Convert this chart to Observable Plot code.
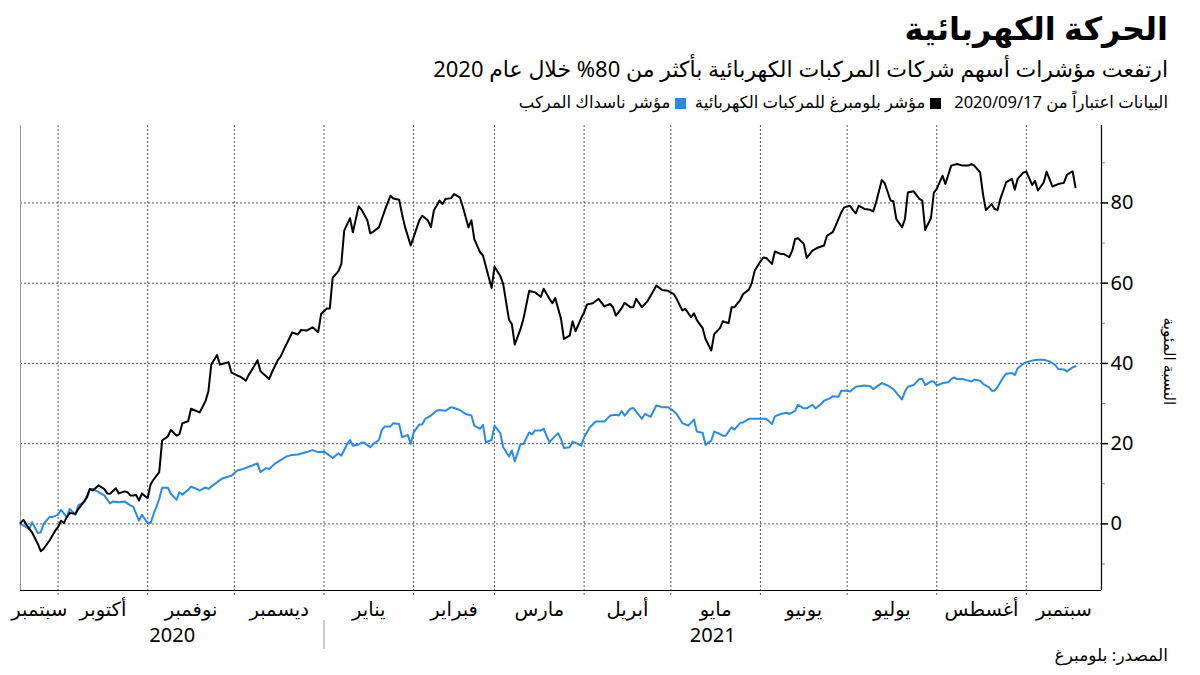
<!DOCTYPE html>
<html lang="ar">
<head>
<meta charset="utf-8">
<script src="https://cdn.jsdelivr.net/npm/d3@7"></script>
<script src="https://cdn.jsdelivr.net/npm/@observablehq/plot@0.6"></script>
<style>
body{margin:0;background:#fff;}
#wrap{position:relative;width:1200px;height:675px;overflow:hidden;font-family:"Noto Sans","DejaVu Sans",sans-serif;color:#000;}
.rt{position:absolute;right:32px;direction:rtl;white-space:nowrap;line-height:1.2;}
#title{top:9px;font-size:32px;font-weight:bold;}
#subtitle{top:55px;font-size:22px;}
#legend{top:92px;font-size:16.5px;}
#legend .sw{display:inline-block;width:11px;height:11px;margin:0 0 0 5px;vertical-align:-1px;}
#source{top:645px;font-size:17px;}
#chart{position:absolute;left:0;top:118px;}
</style>
</head>
<body>
<div id="wrap">
  <div id="title" class="rt">الحركة الكهربائية</div>
  <div id="subtitle" class="rt">ارتفعت مؤشرات أسهم شركات المركبات الكهربائية بأكثر من 80% خلال عام 2020</div>
  <div id="legend" class="rt">البيانات اعتباراً من 2020/09/17&nbsp;&nbsp; <span class="sw" style="background:#000"></span>مؤشر بلومبرغ للمركبات الكهربائية&nbsp; <span class="sw" style="background:#2a8ae6"></span>مؤشر ناسداك المركب</div>
  <div id="chart"></div>
  <div id="source" class="rt">المصدر: بلومبرغ</div>
</div>
<script>
// Bloomberg EV index, % change since start
const evIndex = [
["2020-09-18",0.2],["2020-09-19",1.0],["2020-09-21",-1.2],["2020-09-22",-2.1],["2020-09-24",-5.0],["2020-09-25",-6.8],["2020-09-26",-6.2],["2020-09-28",-4.2],["2020-09-30",-1.7],
["2020-10-01",-0.8],["2020-10-02",0.8],["2020-10-03",0.2],["2020-10-04",1.7],["2020-10-05",2.7],["2020-10-07",2.5],["2020-10-08",3.7],["2020-10-09",4.6],["2020-10-11",6.6],["2020-10-12",8.7],["2020-10-13",8.3],["2020-10-15",9.6],["2020-10-17",8.7],["2020-10-18",7.6],["2020-10-19",7.5],["2020-10-21",8.9],["2020-10-22",7.6],["2020-10-24",8.1],["2020-10-25",7.9],["2020-10-26",7.1],["2020-10-27",7.1],["2020-10-28",7.2],["2020-10-29",5.8],["2020-10-30",7.6],
["2020-11-01",6.4],["2020-11-02",9.8],["2020-11-03",11.0],["2020-11-05",12.9],["2020-11-06",20.8],["2020-11-08",21.8],["2020-11-09",23.4],["2020-11-11",22.0],["2020-11-12",22.4],["2020-11-13",25.1],["2020-11-15",25.6],["2020-11-16",28.7],["2020-11-19",27.8],["2020-11-21",30.6],["2020-11-22",33.0],["2020-11-23",39.7],["2020-11-25",42.1],["2020-11-26",39.7],["2020-11-27",39.9],["2020-11-29",40.3],["2020-11-30",37.7],
["2020-12-02",37.0],["2020-12-03",36.7],["2020-12-05",35.7],["2020-12-06",37.2],["2020-12-07",38.3],["2020-12-09",40.8],["2020-12-10",38.1],["2020-12-11",37.4],["2020-12-13",36.1],["2020-12-14",37.8],["2020-12-16",40.8],["2020-12-17",41.7],["2020-12-18",43.3],["2020-12-21",47.7],["2020-12-23",47.2],["2020-12-24",48.3],["2020-12-26",48.2],["2020-12-28",49.0],["2020-12-30",47.8],["2020-12-31",52.3],
["2021-01-02",53.7],["2021-01-03",53.7],["2021-01-04",61.3],["2021-01-06",63.0],["2021-01-07",64.8],["2021-01-08",73.1],["2021-01-10",76.2],["2021-01-11",72.7],["2021-01-13",79.2],["2021-01-14",78.3],["2021-01-16",75.7],["2021-01-17",72.4],["2021-01-18",72.8],["2021-01-20",73.9],["2021-01-21",76.0],["2021-01-22",78.1],["2021-01-24",81.8],["2021-01-25",81.1],["2021-01-27",80.8],["2021-01-28",77.2],["2021-01-29",74.1],["2021-01-31",69.4],
["2021-02-01",71.4],["2021-02-03",75.7],["2021-02-04",76.8],["2021-02-06",75.6],["2021-02-07",73.9],["2021-02-08",78.1],["2021-02-10",80.6],["2021-02-11",79.7],["2021-02-12",81.0],["2021-02-14",81.2],["2021-02-15",82.2],["2021-02-17",81.4],["2021-02-18",79.1],["2021-02-20",73.9],["2021-02-21",75.7],["2021-02-22",71.0],["2021-02-24",67.7],["2021-02-25",66.9],["2021-02-27",61.5],["2021-02-28",58.8],
["2021-03-01",64.1],["2021-03-03",61.8],["2021-03-04",59.8],["2021-03-06",50.9],["2021-03-07",49.8],["2021-03-08",44.7],["2021-03-10",48.6],["2021-03-11",51.1],["2021-03-13",58.1],["2021-03-15",57.7],["2021-03-17",56.6],["2021-03-18",58.6],["2021-03-20",56.1],["2021-03-21",55.0],["2021-03-22",56.3],["2021-03-24",51.1],["2021-03-25",46.1],["2021-03-27",46.9],["2021-03-28",50.5],["2021-03-29",48.0],["2021-03-31",51.3],
["2021-04-01",52.7],["2021-04-02",54.7],["2021-04-04",55.0],["2021-04-06",56.1],["2021-04-08",54.2],["2021-04-10",54.8],["2021-04-11",54.0],["2021-04-12",51.9],["2021-04-14",53.8],["2021-04-15",55.1],["2021-04-17",54.0],["2021-04-18",54.0],["2021-04-19",56.1],["2021-04-21",54.0],["2021-04-23",55.6],["2021-04-25",58.1],["2021-04-26",59.4],["2021-04-28",58.3],["2021-04-30",58.1],
["2021-05-02",57.3],["2021-05-03",56.1],["2021-05-05",53.2],["2021-05-06",53.6],["2021-05-08",51.5],["2021-05-09",52.5],["2021-05-10",50.8],["2021-05-12",48.8],["2021-05-13",46.1],["2021-05-15",43.2],["2021-05-16",47.3],["2021-05-18",48.8],["2021-05-19",50.5],["2021-05-21",50.0],["2021-05-22",54.0],["2021-05-23",54.0],["2021-05-25",55.8],["2021-05-26",57.3],["2021-05-28",58.4],["2021-05-29",60.0],["2021-05-30",63.1],
["2021-06-01",65.4],["2021-06-02",66.4],["2021-06-03",66.3],["2021-06-05",64.8],["2021-06-06",67.9],["2021-06-08",67.3],["2021-06-09",67.3],["2021-06-11",66.5],["2021-06-12",68.1],["2021-06-13",71.0],["2021-06-14",71.2],["2021-06-16",69.8],["2021-06-17",66.3],["2021-06-19",68.1],["2021-06-21",68.9],["2021-06-23",69.4],["2021-06-24",71.8],["2021-06-26",72.7],["2021-06-27",74.3],["2021-06-29",77.7],["2021-06-30",78.9],
["2021-07-02",79.3],["2021-07-03",78.2],["2021-07-04",77.4],["2021-07-05",79.3],["2021-07-07",78.5],["2021-07-09",78.3],["2021-07-10",77.9],["2021-07-11",80.1],["2021-07-13",85.7],["2021-07-14",84.9],["2021-07-16",80.6],["2021-07-17",80.4],["2021-07-18",76.0],["2021-07-20",73.9],["2021-07-21",76.0],["2021-07-22",82.6],["2021-07-24",82.9],["2021-07-26",81.0],["2021-07-27",80.6],["2021-07-28",73.3],["2021-07-30",76.2],["2021-07-31",82.6],
["2021-08-01",83.5],["2021-08-03",86.8],["2021-08-04",84.7],["2021-08-06",89.3],["2021-08-08",89.7],["2021-08-10",89.3],["2021-08-12",89.3],["2021-08-13",89.7],["2021-08-14",89.3],["2021-08-16",87.6],["2021-08-17",82.2],["2021-08-18",78.2],["2021-08-20",79.7],["2021-08-21",78.5],["2021-08-22",78.2],["2021-08-23",81.0],["2021-08-25",85.1],["2021-08-27",86.0],["2021-08-28",83.3],["2021-08-29",86.0],["2021-08-31",87.6],
["2021-09-01",87.8],["2021-09-03",84.5],["2021-09-04",85.5],["2021-09-05",83.1],["2021-09-07",85.1],["2021-09-08",87.8],["2021-09-10",84.1],["2021-09-12",84.7],["2021-09-14",85.0],["2021-09-15",87.0],["2021-09-17",87.9],["2021-09-18",83.9]
];

// Nasdaq Composite, % change since start
const nasdaqIndex = [
["2020-09-18",0.0],["2020-09-20",-0.8],["2020-09-21",-1.3],["2020-09-22",0.4],["2020-09-24",-2.3],["2020-09-25",-2.1],["2020-09-26",0.0],["2020-09-28",1.7],["2020-09-29",1.7],
["2020-10-01",2.3],["2020-10-02",3.5],["2020-10-04",1.7],["2020-10-05",3.7],["2020-10-07",2.3],["2020-10-08",4.6],["2020-10-10",5.4],["2020-10-12",8.7],["2020-10-13",8.7],["2020-10-15",7.9],["2020-10-17",7.1],["2020-10-19",5.1],["2020-10-20",5.6],["2020-10-22",5.4],["2020-10-24",5.6],["2020-10-26",4.6],["2020-10-27",4.3],["2020-10-29",0.8],["2020-10-30",2.3],
["2020-11-01",0.2],["2020-11-02",0.2],["2020-11-03",2.3],["2020-11-05",6.2],["2020-11-06",9.0],["2020-11-08",9.0],["2020-11-09",7.5],["2020-11-11",6.0],["2020-11-12",7.9],["2020-11-13",7.3],["2020-11-15",8.5],["2020-11-16",9.3],["2020-11-18",8.7],["2020-11-19",8.3],["2020-11-21",9.1],["2020-11-22",8.7],["2020-11-23",9.3],["2020-11-25",10.4],["2020-11-27",11.4],["2020-11-30",12.0],
["2020-12-02",13.3],["2020-12-04",13.7],["2020-12-07",14.5],["2020-12-09",15.1],["2020-12-10",12.9],["2020-12-12",13.9],["2020-12-13",13.7],["2020-12-15",15.0],["2020-12-17",15.9],["2020-12-19",16.8],["2020-12-21",17.2],["2020-12-23",17.3],["2020-12-26",17.9],["2020-12-28",18.4],["2020-12-30",17.9],
["2021-01-01",18.0],["2021-01-03",17.0],["2021-01-04",16.4],["2021-01-06",17.6],["2021-01-07",17.0],["2021-01-09",19.9],["2021-01-10",20.9],["2021-01-11",19.5],["2021-01-13",19.8],["2021-01-14",20.3],["2021-01-15",20.2],["2021-01-17",19.1],["2021-01-18",19.9],["2021-01-20",20.9],["2021-01-21",23.4],["2021-01-22",24.3],["2021-01-24",24.3],["2021-01-25",25.1],["2021-01-27",24.9],["2021-01-28",21.6],["2021-01-30",22.2],["2021-01-31",19.9],
["2021-02-01",22.8],["2021-02-03",24.8],["2021-02-04",24.8],["2021-02-05",26.2],["2021-02-07",27.0],["2021-02-09",28.2],["2021-02-10",28.4],["2021-02-12",28.2],["2021-02-14",29.1],["2021-02-15",28.9],["2021-02-17",28.4],["2021-02-19",27.4],["2021-02-21",27.0],["2021-02-22",24.5],["2021-02-24",23.7],["2021-02-25",24.7],["2021-02-26",20.3],["2021-02-28",20.9],
["2021-03-01",24.5],["2021-03-03",22.6],["2021-03-04",19.1],["2021-03-06",16.8],["2021-03-07",18.3],["2021-03-08",15.6],["2021-03-10",19.9],["2021-03-11",19.9],["2021-03-13",22.8],["2021-03-14",22.3],["2021-03-15",23.3],["2021-03-17",23.3],["2021-03-18",23.7],["2021-03-20",20.3],["2021-03-21",21.2],["2021-03-23",22.6],["2021-03-24",21.2],["2021-03-25",18.9],["2021-03-27",19.1],["2021-03-28",20.5],["2021-03-30",19.9],["2021-03-31",19.5],
["2021-04-01",21.6],["2021-04-03",24.1],["2021-04-05",25.5],["2021-04-08",25.5],["2021-04-10",27.0],["2021-04-12",27.2],["2021-04-13",27.0],["2021-04-14",28.1],["2021-04-15",27.0],["2021-04-17",28.7],["2021-04-18",28.9],["2021-04-21",26.2],["2021-04-22",27.4],["2021-04-24",26.7],["2021-04-26",29.5],["2021-04-28",29.1],["2021-04-30",29.1],
["2021-05-02",28.1],["2021-05-03",27.4],["2021-05-05",25.1],["2021-05-07",24.5],["2021-05-09",26.0],["2021-05-10",23.0],["2021-05-12",22.7],["2021-05-13",19.7],["2021-05-15",20.8],["2021-05-16",23.0],["2021-05-18",22.4],["2021-05-19",22.0],["2021-05-20",22.0],["2021-05-22",24.1],["2021-05-23",23.5],["2021-05-25",25.2],["2021-05-26",25.3],["2021-05-28",26.2],["2021-05-30",26.2],
["2021-06-02",26.2],["2021-06-03",26.2],["2021-06-05",24.9],["2021-06-06",26.8],["2021-06-08",27.4],["2021-06-10",27.7],["2021-06-11",27.4],["2021-06-13",28.2],["2021-06-14",29.7],["2021-06-16",28.8],["2021-06-17",28.8],["2021-06-19",29.7],["2021-06-20",28.8],["2021-06-22",29.9],["2021-06-23",30.7],["2021-06-25",31.3],["2021-06-26",31.8],["2021-06-28",31.7],["2021-06-29",33.2],
["2021-07-01",33.2],["2021-07-02",33.0],["2021-07-04",34.2],["2021-07-07",34.5],["2021-07-09",34.3],["2021-07-10",33.6],["2021-07-13",35.1],["2021-07-15",34.5],["2021-07-17",33.6],["2021-07-20",31.0],["2021-07-21",33.0],["2021-07-22",34.2],["2021-07-24",34.6],["2021-07-26",36.1],["2021-07-27",36.1],["2021-07-28",34.6],["2021-07-30",35.5],["2021-07-31",35.5],
["2021-08-01",34.5],["2021-08-03",35.1],["2021-08-05",35.3],["2021-08-06",36.1],["2021-08-07",36.5],["2021-08-08",36.1],["2021-08-10",36.1],["2021-08-11",35.9],["2021-08-13",35.5],["2021-08-14",36.0],["2021-08-16",35.7],["2021-08-17",34.9],["2021-08-19",34.1],["2021-08-20",33.2],["2021-08-21",33.2],["2021-08-22",34.1],["2021-08-24",36.5],["2021-08-25",37.4],["2021-08-27",37.6],["2021-08-28",37.1],["2021-08-29",38.8],["2021-08-31",39.9],
["2021-09-01",40.3],["2021-09-03",40.7],["2021-09-05",40.9],["2021-09-07",40.9],["2021-09-09",40.5],["2021-09-11",39.6],["2021-09-12",38.6],["2021-09-14",38.5],["2021-09-15",38.0],["2021-09-17",39.0],["2021-09-18",39.3]
];

const xDomain = ["2020-09-18", "2021-09-27"];
const yDomain = [-16.6, 99.3];
const yTicks = [0, 20, 40, 60, 80];
const yMinorTicks = [-10, 10, 30, 50, 70, 90];
const monthStarts = ["2020-10-01","2020-11-01","2020-12-01","2021-01-01","2021-02-01","2021-03-01","2021-04-01","2021-05-01","2021-06-01","2021-07-01","2021-08-01","2021-09-01"];
const monthLabels = ["سبتمبر","أكتوبر","نوفمبر","ديسمبر","يناير","فبراير","مارس","أبريل","مايو","يونيو","يوليو","أغسطس","سبتمبر"];
const yearBreak = "2021-01-01";
const yearLabels = ["2020", "2021"];
const yLabel = "النسبة المئوية";

const parse = d3.utcParse("%Y-%m-%d");
const toRows = (arr) => arr.map(([d, v]) => ({date: parse(d), value: v}));
const ev = toRows(evIndex);
const nasdaq = toRows(nasdaqIndex);
const x0 = parse(xDomain[0]), x1 = parse(xDomain[1]);
const monthDates = monthStarts.map(parse);
const bounds = [x0, ...monthDates, x1];
const monthPos = monthLabels.map((m, i) => ({date: new Date((+bounds[i] + +bounds[i + 1]) / 2), label: m}));
const yb = parse(yearBreak);
const yearPos = [
  {date: new Date((+x0 + +yb) / 2), label: yearLabels[0]},
  {date: new Date((+yb + +x1) / 2), label: yearLabels[1]}
];

const BLUE = "#2a8ae6";
const fontFam = '"Noto Sans","DejaVu Sans",sans-serif';

const chart = Plot.plot({
  width: 1200,
  height: 532,
  marginLeft: 20,
  marginRight: 99,
  marginTop: 7,
  marginBottom: 60,
  style: {fontFamily: fontFam, fontSize: "19px", color: "#000", background: "transparent", overflow: "visible"},
  x: {type: "utc", domain: [x0, x1], axis: null},
  y: {domain: yDomain},
  marks: [
    Plot.ruleY(yTicks, {stroke: "#555", strokeDasharray: "2,2", strokeWidth: 1}),
    Plot.ruleX(monthDates, {stroke: "#555", strokeDasharray: "2,2", strokeWidth: 1, insetBottom: -5}),
    Plot.ruleX([x0], {stroke: "#999", strokeWidth: 1}),
    Plot.axisY({anchor: "right", ticks: yMinorTicks, tickSize: 3, tickFormat: () => "", label: null, stroke: "#888"}),
    Plot.axisY({anchor: "right", ticks: yTicks, tickSize: 6, tickPadding: 3, label: null, fontSize: 20, strokeWidth: 1.5}),
    Plot.ruleY([yDomain[0]], {stroke: "#000", strokeWidth: 1.2}),
    Plot.ruleX([x1], {stroke: "#000", strokeWidth: 1.2}),
    Plot.line(nasdaq, {x: "date", y: "value", stroke: BLUE, strokeWidth: 2}),
    Plot.line(ev, {x: "date", y: "value", stroke: "#000", strokeWidth: 2}),
    Plot.text(monthPos, {x: "date", text: "label", frameAnchor: "bottom", dy: 19, fontSize: 19.5, lineAnchor: "middle"}),
    Plot.text(yearPos, {x: "date", text: "label", frameAnchor: "bottom", dy: 45, fontSize: 20, lineAnchor: "middle"}),
    Plot.ruleX([yb], {stroke: "#999", strokeWidth: 1, insetTop: 495, insetBottom: -59}),
    Plot.text([yLabel], {y: [40.5], text: d => d, frameAnchor: "right", textAnchor: "middle", dx: 67, rotate: 90, fontSize: 15.5, lineAnchor: "middle"})
  ]
});
document.getElementById("chart").appendChild(chart);
</script>
</body>
</html>
